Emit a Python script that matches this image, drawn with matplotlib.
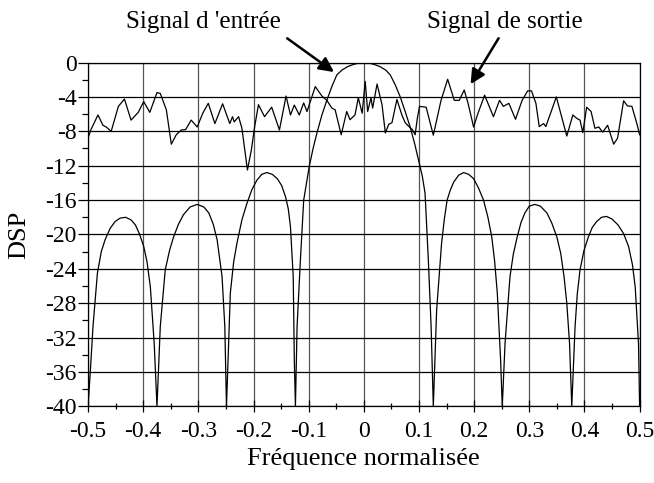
import numpy as np
import matplotlib
matplotlib.use("Agg")
import matplotlib.pyplot as plt
from matplotlib.ticker import MultipleLocator

plt.rcParams['font.family'] = ['Liberation Serif', 'DejaVu Serif']
plt.rcParams['axes.unicode_minus'] = False

# Input signal spectrum (sinc-like lobes)
in_freq = [-0.500, -0.496, -0.491, -0.483, -0.476, -0.469, -0.460, -0.451, -0.442, -0.432,
           -0.422, -0.414, -0.407, -0.399, -0.393, -0.387, -0.380,
           -0.375, -0.369, -0.360, -0.352, -0.345, -0.336, -0.327, -0.315, -0.302, -0.290,
           -0.281, -0.273, -0.266, -0.257, -0.252,
           -0.249, -0.242, -0.236, -0.230, -0.221, -0.212, -0.203, -0.194, -0.185, -0.176,
           -0.166, -0.157, -0.149, -0.142, -0.137, -0.133, -0.128, -0.126,
           -0.124, -0.121, -0.115, -0.109, -0.103, -0.099, -0.092, -0.085, -0.076, -0.067,
           -0.058, -0.049, -0.040, -0.030, -0.020, -0.010, 0.000, 0.010, 0.020, 0.030,
           0.040, 0.048, 0.057, 0.066, 0.075, 0.084, 0.092, 0.100, 0.106, 0.111,
           0.117, 0.122,
           0.126, 0.132, 0.141, 0.146, 0.151, 0.157, 0.163, 0.172, 0.181, 0.190,
           0.199, 0.208, 0.217, 0.225, 0.232, 0.237, 0.242, 0.248,
           0.251, 0.256, 0.265, 0.271, 0.278, 0.285, 0.292, 0.300, 0.310, 0.320,
           0.332, 0.341, 0.350, 0.357, 0.363, 0.368, 0.373,
           0.377, 0.383, 0.387, 0.392, 0.399, 0.407, 0.414, 0.422, 0.431, 0.440,
           0.450, 0.461, 0.471, 0.480, 0.487, 0.492, 0.498, 0.500]
in_dsp = [-40, -36.1, -30.7, -24.5, -22.0, -20.6, -19.3, -18.5, -18.1, -18.0,
          -18.3, -18.9, -19.9, -21.4, -23.2, -26.1, -32.7,
          -40, -30.7, -24.1, -21.8, -20.3, -18.8, -17.7, -16.8, -16.5, -16.8,
          -17.5, -18.8, -20.6, -24.9, -30.7,
          -40, -26.8, -23.2, -21.0, -18.3, -16.4, -14.8, -13.7, -13.0, -12.8,
          -13.0, -13.5, -14.3, -15.6, -17.0, -19.1, -24.9, -34.6,
          -40, -30.7, -23.0, -16.0, -13.7, -12.1, -10.0, -8.2, -6.1, -4.4,
          -2.8, -1.45, -0.9, -0.5, -0.25, -0.07, 0.0, -0.07, -0.25, -0.5,
          -0.9, -1.45, -2.6, -4.0, -5.7, -7.5, -9.4, -11.6, -13.2, -15.2,
          -23.0, -30.7,
          -40, -28.8, -21.0, -18.2, -16.0, -14.8, -13.9, -13.1, -12.8, -13.0,
          -13.5, -14.6, -16.0, -18.0, -20.3, -23.0, -26.8, -34.6,
          -40, -32.7, -24.9, -22.3, -20.3, -18.6, -17.5, -16.7, -16.5, -16.7,
          -17.5, -18.7, -20.3, -22.2, -24.9, -28.0, -32.7,
          -40, -30.7, -26.9, -24.1, -21.9, -20.3, -19.2, -18.5, -18.0, -17.9,
          -18.2, -18.9, -19.9, -21.4, -23.5, -26.1, -32.7, -40]

# Output signal spectrum (noisy)
out_freq = [-0.500, -0.495, -0.482, -0.473, -0.467, -0.458, -0.445, -0.434, -0.422, -0.409,
            -0.399, -0.388, -0.375, -0.369, -0.358, -0.349, -0.340, -0.331, -0.323, -0.313,
            -0.302, -0.292, -0.282, -0.270, -0.256, -0.243, -0.238, -0.235, -0.227, -0.221,
            -0.211, -0.204, -0.198, -0.191, -0.180, -0.167, -0.153, -0.141, -0.133, -0.126,
            -0.117, -0.109, -0.103, -0.088, -0.076, -0.067, -0.058, -0.052, -0.041, -0.031,
            -0.025, -0.016, -0.010, -0.003, 0.0025, 0.007, 0.013, 0.016, 0.024, 0.033,
            0.039, 0.045, 0.051, 0.060, 0.069, 0.075, 0.081, 0.088, 0.093, 0.097,
            0.101, 0.113, 0.126, 0.140, 0.152, 0.164, 0.173, 0.182, 0.189, 0.199,
            0.207, 0.219, 0.235, 0.246, 0.253, 0.263, 0.275, 0.287, 0.297, 0.304,
            0.312, 0.318, 0.326, 0.330, 0.349, 0.368, 0.379, 0.386, 0.392, 0.397,
            0.404, 0.412, 0.419, 0.426, 0.433, 0.442, 0.453, 0.460, 0.471, 0.478,
            0.486, 0.495, 0.500]
out_dsp = [-8.8, -7.85, -6.1, -7.3, -7.5, -8.0, -5.1, -4.25, -6.7, -5.8,
           -4.55, -5.8, -3.5, -3.6, -5.5, -9.5, -8.4, -7.85, -7.8, -6.7,
           -7.5, -5.9, -4.75, -7.1, -4.8, -7.1, -6.3, -6.9, -6.3, -7.65,
           -12.5, -10.2, -7.5, -4.9, -6.3, -5.2, -7.85, -3.9, -6.1, -4.95,
           -6.1, -4.7, -5.7, -2.8, -3.9, -4.4, -5.3, -5.5, -8.4, -5.7,
           -6.65, -6.1, -4.1, -5.9, -2.2, -5.7, -4.1, -5.3, -2.5, -4.9,
           -8.2, -7.2, -7.0, -4.3, -6.1, -7.0, -7.4, -7.8, -8.4, -6.5,
           -5.1, -5.2, -8.45, -4.4, -1.95, -4.4, -4.4, -3.2, -4.75, -7.5,
           -5.9, -3.8, -6.3, -4.4, -5.1, -4.75, -6.6, -4.4, -3.3, -3.3,
           -4.75, -7.45, -7.1, -7.45, -4.0, -8.55, -6.1, -6.5, -6.7, -8.15,
           -5.2, -5.7, -7.65, -7.5, -8.1, -7.3, -9.5, -8.8, -4.45, -5.05,
           -5.1, -7.1, -8.4]

x_ticks = [-0.5, -0.4, -0.3, -0.2, -0.1, 0, 0.1, 0.2, 0.3, 0.4, 0.5]
x_ticklabels = ['-0.5', '-0.4', '-0.3', '-0.2', '-0.1', '0', '0.1', '0.2', '0.3', '0.4', '0.5']
y_ticks = list(range(0, -41, -4))

fig = plt.figure(figsize=(6.54, 4.83), dpi=100)
ax = fig.add_axes([0.1346, 0.1584, 0.8434, 0.7122])

ax.plot(in_freq, in_dsp, color='black', lw=0.9)
ax.plot(out_freq, out_dsp, color='black', lw=0.9)

ax.set_xlim(-0.5, 0.5)
ax.set_ylim(-40, 0)
ax.set_xticks(x_ticks)
ax.set_xticklabels(x_ticklabels)
ax.set_yticks(y_ticks)
ax.set_yticklabels([str(v) for v in y_ticks])
ax.xaxis.set_minor_locator(MultipleLocator(0.05))
ax.yaxis.set_minor_locator(MultipleLocator(2))

for v in x_ticks:
    ax.axvline(v, color='#555555', lw=0.9, zorder=0)
for v in y_ticks:
    ax.axhline(v, color='black', lw=0.9, zorder=0)

ax.tick_params(axis='x', which='major', direction='inout', length=9, width=0.9, labelsize=17, pad=6)
ax.tick_params(axis='x', which='minor', direction='inout', length=5, width=0.9)
ax.tick_params(axis='y', which='major', direction='out', length=7, width=0.9, labelsize=17, pad=1)
ax.tick_params(axis='y', which='minor', direction='out', length=4, width=0.9)
for s in ax.spines.values():
    s.set_linewidth(0.9)

ax.set_xlabel('Fréquence normalisée', fontsize=19)
ax.xaxis.set_label_coords(0.5, -0.12)
ax.set_ylabel('DSP', fontsize=19)
ax.yaxis.set_label_coords(-0.105, 0.5)

ax.text(-0.291, 4.7, "Signal d 'entrée", fontsize=18, ha='center', va='center')
ax.text(0.255, 4.7, 'Signal de sortie', fontsize=18, ha='center', va='center')
ax.annotate('', xy=(-0.050, -1.3), xytext=(-0.143, 3.0),
            arrowprops=dict(arrowstyle='-|>', color='black', lw=1.8, mutation_scale=22),
            annotation_clip=False)
ax.annotate('', xy=(0.191, -2.8), xytext=(0.247, 3.1),
            arrowprops=dict(arrowstyle='-|>', color='black', lw=1.8, mutation_scale=22),
            annotation_clip=False)

plt.savefig('out.png', dpi=100)
